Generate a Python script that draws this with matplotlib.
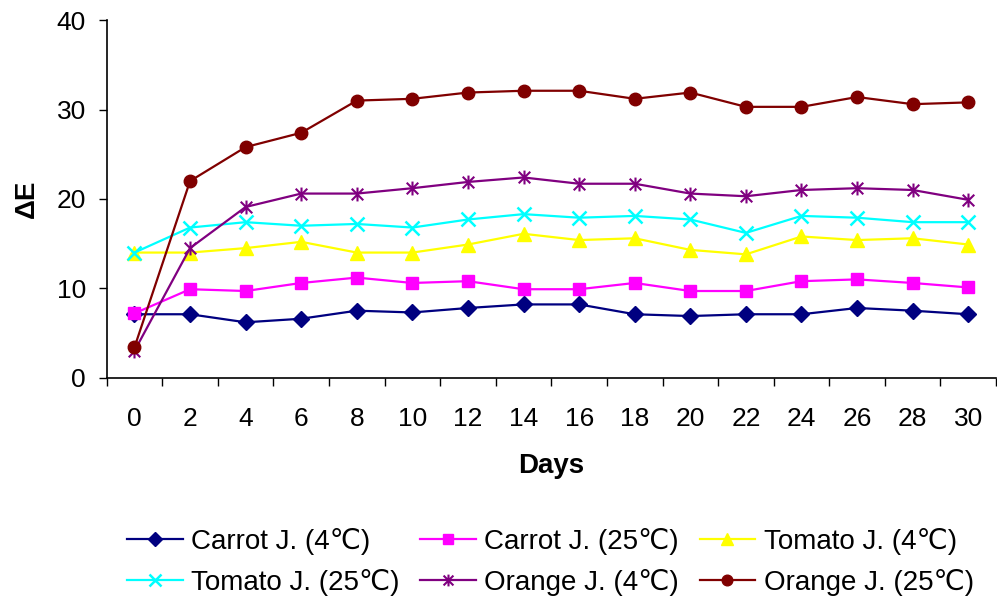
import numpy as np
import matplotlib
matplotlib.use("Agg")
import matplotlib.pyplot as plt
from matplotlib.path import Path

plt.rcParams['font.family'] = ['Liberation Sans', 'DejaVu Sans']

days = [0, 2, 4, 6, 8, 10, 12, 14, 16, 18, 20, 22, 24, 26, 28, 30]

carrot_4 = [7.1, 7.1, 6.2, 6.6, 7.5, 7.3, 7.8, 8.2, 8.2, 7.1, 6.9, 7.1, 7.1, 7.8, 7.5, 7.1]
carrot_25 = [7.2, 9.9, 9.7, 10.6, 11.2, 10.6, 10.8, 9.9, 9.9, 10.6, 9.7, 9.7, 10.8, 11.0, 10.6, 10.1]
tomato_4 = [14.0, 14.0, 14.5, 15.2, 14.0, 14.0, 14.9, 16.1, 15.4, 15.6, 14.3, 13.8, 15.8, 15.4, 15.6, 14.9]
tomato_25 = [14.0, 16.8, 17.4, 17.0, 17.2, 16.8, 17.7, 18.3, 17.9, 18.1, 17.7, 16.2, 18.1, 17.9, 17.4, 17.4]
orange_4 = [3.0, 14.5, 19.1, 20.6, 20.6, 21.2, 21.9, 22.4, 21.7, 21.7, 20.6, 20.3, 21.0, 21.2, 21.0, 19.9]
orange_25 = [3.4, 22.0, 25.8, 27.4, 31.0, 31.2, 31.9, 32.1, 32.1, 31.2, 31.9, 30.3, 30.3, 31.4, 30.6, 30.8]

series_labels = ["Carrot J. (4℃)", "Carrot J. (25℃)", "Tomato J. (4℃)",
                 "Tomato J. (25℃)", "Orange J. (4℃)", "Orange J. (25℃)"]

# asterisk: an x with a vertical stroke
asterisk = Path(
    [(-1, -1), (1, 1), (-1, 1), (1, -1), (0, -1.2), (0, 1.2)],
    [Path.MOVETO, Path.LINETO, Path.MOVETO, Path.LINETO, Path.MOVETO, Path.LINETO],
)

styles = [
    dict(color="#000080", marker="D", ms=8.5, mfc="#000080", mec="#000080"),
    dict(color="#FF00FF", marker="s", ms=8.5, mfc="#FF00FF", mec="#FF00FF"),
    dict(color="#FFFF00", marker="^", ms=10.5, mfc="#FFFF00", mec="#FFFF00"),
    dict(color="#00FFFF", marker="x", ms=10, mew=1.8, mec="#00FFFF"),
    dict(color="#800080", marker=asterisk, ms=10, mew=1.5, mec="#800080", mfc="none"),
    dict(color="#800000", marker="o", ms=9, mfc="#800000", mec="#800000"),
]

data = [carrot_4, carrot_25, tomato_4, tomato_25, orange_4, orange_25]

fig = plt.figure(figsize=(9.97, 6.01), dpi=100)
ax = fig.add_axes([0.107, 0.3715, 0.892, 0.595])

x = np.arange(len(days))
handles = []
for vals, st, lab in zip(data, styles, series_labels):
    h, = ax.plot(x, vals, lw=1.6, label=lab, **st)
    handles.append(h)

ax.set_xlim(-0.5, len(days) - 0.5)
ax.set_ylim(0, 40)
ax.set_yticks([0, 10, 20, 30, 40])

ax.set_xticks(np.arange(-0.5, len(days), 1.0))
ax.set_xticklabels([])
ax.set_xticks(x, minor=True)
ax.set_xticklabels([str(d) for d in days], minor=True)

ax.tick_params(axis='both', which='major', direction='out', length=6, width=1,
               labelsize=19, color='black')
ax.tick_params(axis='y', which='major', pad=9)
ax.tick_params(axis='x', which='minor', length=0, labelsize=19, pad=21)

for s in ['top', 'right']:
    ax.spines[s].set_visible(False)
for s in ['left', 'bottom']:
    ax.spines[s].set_linewidth(1.2)
    ax.spines[s].set_color('black')

ax.set_xlabel("Days", fontsize=20, fontweight='bold', labelpad=16)
ax.set_ylabel("ΔE", fontsize=20, fontweight='bold', labelpad=12)

# legend laid out row-wise: three entries per row
order = [0, 3, 1, 4, 2, 5]
fig.legend([handles[i] for i in order], [series_labels[i] for i in order],
           ncol=3, loc='center', bbox_to_anchor=(0.552, 0.065), frameon=False,
           fontsize=20, handlelength=2.0, columnspacing=0.75, handletextpad=0.3,
           labelspacing=0.5, markerscale=0.85)

fig.savefig("out.png", dpi=100)
